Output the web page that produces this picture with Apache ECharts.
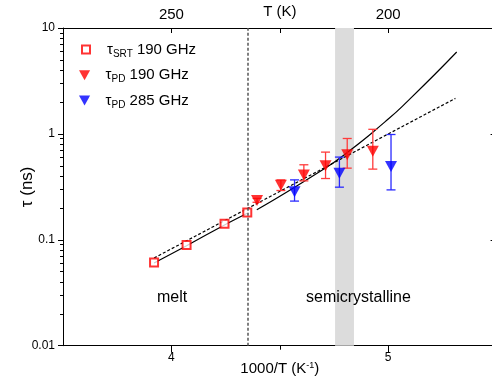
<!DOCTYPE html>
<html>
<head>
<meta charset="utf-8">
<script src="https://cdn.jsdelivr.net/npm/echarts@6/dist/echarts.min.js"></script>
<style>html,body{margin:0;padding:0;background:#fff}#c{width:492px;height:381px}</style>
</head>
<body>
<div id="c"></div>
<script>
// ---- data ----
const srtX = [3.92, 4.07, 4.245, 4.35];
const srtY = [0.061, 0.0895, 0.142, 0.181];

const pd190X = [4.395, 4.505, 4.611, 4.711, 4.811, 4.929];
const pd190Y = [0.235, 0.328, 0.410, 0.499, 0.635, 0.685];
const pd190Lo = [0.226, 0.292, 0.36, 0.379, 0.475, 0.465];
const pd190Hi = [0.246, 0.368, 0.511, 0.673, 0.905, 1.105];

const pd285X = [4.568, 4.775, 5.013];
const pd285Y = [0.284, 0.426, 0.493];
const pd285Lo = [0.232, 0.314, 0.296];
const pd285Hi = [0.368, 0.604, 0.987];

const fit1X = [3.92, 4.07, 4.245, 4.35];
const fit1Y = [0.0605, 0.088, 0.138, 0.178];
const fit2X = [4.394, 4.685, 4.81, 4.985, 5.091, 5.316];
const fit2Y = [0.192, 0.441, 0.665, 1.3, 2.05, 5.93];
const arrX = [3.92, 5.31];
const arrY = [0.0673, 2.165];

const meltLineX = 4.348;
const bandX = [4.755, 4.842];

const bottomTicks = [4, 5];
const bottomMinor = [4.5];
const topTicks = [4, 4.5, 5];
const topLabelVals = [4, 5];
const topLabels = ['250', '200'];
const yMajor = [0.01, 0.1, 1, 10];
const yMinor = [];
[0.01, 0.1, 1].forEach(d => { for (let k = 2; k <= 9; k++) yMinor.push(+(d * k).toPrecision(3)); });

const legendNames = ['τ{sub|SRT} 190 GHz', 'τ{sub|PD} 190 GHz', 'τ{sub|PD} 285 GHz'];

// ---- helpers ----
const zip = (a, b) => a.map((v, i) => [v, b[i]]);
const zip3 = (a, b, c) => a.map((v, i) => [v, b[i], c[i]]);
const FONT = 'Liberation Sans, Arial, sans-serif';
const TRI = 'path://M0,0 L10,0 L5,9 Z';

function errRender(color) {
  return function (params, api) {
    const x = api.value(0);
    const p1 = api.coord([x, api.value(1)]);
    const p2 = api.coord([x, api.value(2)]);
    const w = 4.5;
    const st = { stroke: color, lineWidth: 1.3 };
    return {
      type: 'group',
      children: [
        { type: 'line', shape: { x1: p1[0], y1: p1[1], x2: p2[0], y2: p2[1] }, style: st },
        { type: 'line', shape: { x1: p1[0] - w, y1: p1[1], x2: p1[0] + w, y2: p1[1] }, style: st },
        { type: 'line', shape: { x1: p2[0] - w, y1: p2[1], x2: p2[0] + w, y2: p2[1] }, style: st }
      ]
    };
  };
}

const chart = echarts.init(document.getElementById('c'), null, { renderer: 'canvas' });

const xBase = {
  type: 'value', min: 3.5, max: 5.5, interval: 0.5,
  splitLine: { show: false }, nameMoveOverlap: false
};
const yBase = {
  type: 'log', logBase: 10, min: 0.01, max: 10,
  splitLine: { show: false }, minorSplitLine: { show: false }, nameMoveOverlap: false
};
const legTextStyle = (pad) => ({
  fontFamily: FONT, fontSize: 15, color: '#000', padding: [0, 0, 0, pad],
  rich: { sub: { fontSize: 10, padding: [9, 0, 0, 0], fontFamily: FONT, color: '#000' } }
});

const option = {
  animation: false,
  textStyle: { fontFamily: FONT },
  grid: { left: 63, top: 28, right: -4.6, bottom: 35.3, containLabel: false, outerBoundsMode: 'none' },
  legend: [
    { orient: 'vertical', left: 76, top: 37, itemWidth: 8, itemHeight: 8,
      data: [legendNames[0]], textStyle: legTextStyle(12) },
    { orient: 'vertical', left: 74, top: 62.7, itemWidth: 12, itemHeight: 10,
      data: [legendNames[1]], textStyle: legTextStyle(10) },
    { orient: 'vertical', left: 74, top: 88, itemWidth: 12, itemHeight: 10,
      data: [legendNames[2]], textStyle: legTextStyle(10) }
  ],
  xAxis: [
    Object.assign({}, xBase, {
      position: 'bottom',
      name: '1000/T (K{sup|-1})', nameLocation: 'middle', nameGap: 15,
      nameTextStyle: { fontSize: 15, color: '#000', fontFamily: FONT,
        rich: { sup: { fontSize: 9, padding: [0, 0, 8, 0], color: '#000', fontFamily: FONT } } },
      axisLine: { lineStyle: { color: '#000', width: 1 } },
      axisTick: { inside: false, length: 7, customValues: bottomTicks, lineStyle: { color: '#000' } },
      axisLabel: { customValues: bottomTicks, margin: 6, fontSize: 12, color: '#000', fontFamily: FONT }
    }),
    Object.assign({}, xBase, {
      position: 'bottom',
      axisLine: { show: false },
      axisTick: { inside: false, length: 4, customValues: bottomMinor, lineStyle: { color: '#000' } },
      axisLabel: { show: false }
    }),
    Object.assign({}, xBase, {
      position: 'top',
      name: 'T (K)', nameLocation: 'middle', nameGap: 9,
      nameTextStyle: { fontSize: 15, color: '#000', fontFamily: FONT },
      axisLine: { lineStyle: { color: '#000', width: 1 } },
      axisTick: { inside: true, length: 5, customValues: topTicks, lineStyle: { color: '#000' } },
      axisLabel: {
        customValues: topLabelVals, margin: 6, fontSize: 15, color: '#000', fontFamily: FONT,
        formatter: v => topLabels[topLabelVals.indexOf(+v.toFixed(3))] || ''
      }
    })
  ],
  yAxis: [
    Object.assign({}, yBase, {
      position: 'left',
      name: 'τ (ns)', nameLocation: 'middle', nameGap: 27,
      nameTextStyle: { fontSize: 17, color: '#000', fontFamily: FONT },
      axisLine: { lineStyle: { color: '#000', width: 1 } },
      axisTick: { inside: false, length: 5, customValues: yMajor, lineStyle: { color: '#000' } },
      axisLabel: { customValues: yMajor, margin: 8, fontSize: 12, color: '#000', fontFamily: FONT,
        formatter: v => String(v) }
    }),
    Object.assign({}, yBase, {
      position: 'left',
      axisLine: { show: false },
      axisTick: { inside: false, length: 3, customValues: yMinor, lineStyle: { color: '#000' } },
      axisLabel: { show: false }
    }),
    Object.assign({}, yBase, {
      position: 'right',
      axisLine: { show: false },
      axisTick: { inside: true, length: 6, customValues: yMajor, lineStyle: { color: '#000' } },
      axisLabel: { show: false }
    })
  ],
  graphic: [
    { type: 'text', left: 157, top: 290, z: 100, style: { text: 'melt', fontSize: 16, fill: '#000', fontFamily: FONT } },
    { type: 'text', left: 306, top: 290, z: 100, style: { text: 'semicrystalline', fontSize: 16, fill: '#000', fontFamily: FONT } }
  ],
  series: [
    {
      type: 'line', name: 'band', data: [], silent: true, z: 0,
      markArea: { silent: true, itemStyle: { color: '#dcdcdc' }, data: [[{ xAxis: bandX[0] }, { xAxis: bandX[1] }]] },
      markLine: {
        silent: true, symbol: 'none', label: { show: false },
        lineStyle: { color: '#555', type: [3, 2], width: 1.5 },
        data: [{ xAxis: meltLineX }]
      }
    },
    { type: 'line', name: 'fit1', data: zip(fit1X, fit1Y), showSymbol: false, smooth: 0.3,
      lineStyle: { color: '#000', width: 1.2 }, z: 2 },
    { type: 'line', name: 'fit2', data: zip(fit2X, fit2Y), showSymbol: false, smooth: 0.6,
      lineStyle: { color: '#000', width: 1.2 }, z: 2 },
    { type: 'line', name: 'arr', data: zip(arrX, arrY), showSymbol: false,
      lineStyle: { color: '#000', width: 1.2, type: [3, 2] }, z: 2 },
    { type: 'custom', name: 'err190', renderItem: errRender('#ff3b3b'), data: zip3(pd190X, pd190Lo, pd190Hi),
      encode: { x: 0, y: [1, 2] }, z: 3 },
    { type: 'custom', name: 'err285', renderItem: errRender('#2a2aff'), data: zip3(pd285X, pd285Lo, pd285Hi),
      encode: { x: 0, y: [1, 2] }, z: 3 },
    { type: 'scatter', name: legendNames[0], data: zip(srtX, srtY), symbol: 'emptyRect', symbolSize: 8,
      itemStyle: { color: '#ff0000', borderColor: '#ff0000', borderWidth: 1.2 }, z: 4 },
    { type: 'scatter', name: legendNames[1], data: zip(pd190X, pd190Y), symbol: TRI, symbolSize: [12, 11],
      itemStyle: { color: '#ff0000' }, z: 4 },
    { type: 'scatter', name: legendNames[2], data: zip(pd285X, pd285Y), symbol: TRI, symbolSize: [12, 11],
      itemStyle: { color: '#0000ff' }, z: 4 }
  ]
};
chart.setOption(option);
</script>
</body>
</html>
